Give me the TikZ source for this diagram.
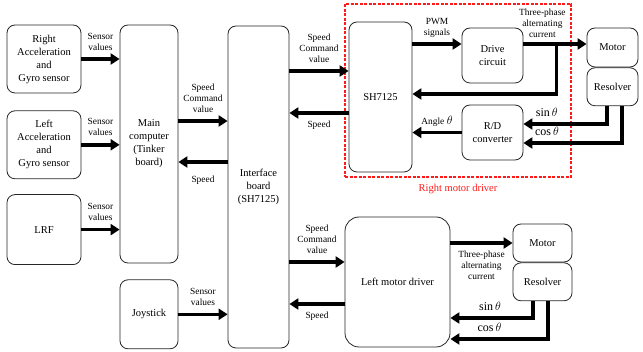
\documentclass[tikz,border=0pt]{standalone}
\usepackage{fontspec}
\setmainfont{Liberation Serif}
\usetikzlibrary{positioning,arrows.meta,calc}
\definecolor{drvred}{HTML}{FF1A1A}

\begin{document}
\begin{tikzpicture}[
    x=1pt, y=-1pt,
    box/.style={draw=black!85, line width=0.8pt, rounded corners=8pt, align=center, inner sep=1pt, font=\fontsize{10.5}{13}\selectfont},
    arr/.style={-{Triangle[length=9pt,width=11pt]}, line width=3.5pt},
    lbl/.style={align=center, inner sep=2pt, font=\fontsize{9.4}{11}\selectfont},
    trig/.style={inner sep=1pt, font=\fontsize{12}{13}\selectfont}
  ]
    \useasboundingbox (0,0) rectangle (643,352);

    % sensors and main computer
    \node[box, minimum width=74pt, minimum height=68pt] (rgyro) at (44,59) {Right\\Acceleration\\and\\Gyro sensor};
    \node[box, minimum width=74pt, minimum height=68pt, below=17pt of rgyro] (lgyro) {Left\\Acceleration\\and\\Gyro sensor};
    \node[box, minimum width=74pt, minimum height=70pt, below=15pt of lgyro] (lrf) {LRF};
    \node[box, minimum width=58pt, minimum height=238pt] (mainpc) at (149,144) {Main\\computer\\(Tinker\\board)};
    \node[box, minimum width=58pt, minimum height=69pt, below=16pt of mainpc] (joy) {Joystick};
    \node[box, minimum width=61pt, minimum height=322pt] (iface) at (258.5,187) {Interface\\board\\(SH7125)};

    % right motor driver
    \node[draw=drvred, line width=1.2pt, dash pattern=on 3pt off 1.5pt, minimum width=226pt, minimum height=173pt] (rbox) at (458,90.5) {};
    \node[text=drvred, inner sep=2pt, font=\fontsize{10.5}{13}\selectfont, below=4pt of rbox] (rboxlbl) {Right motor driver};
    \node[box, minimum width=63pt, minimum height=150pt] (sh) at (380.5,97) {SH7125};
    \node[box, minimum width=61pt, minimum height=55pt] (drive) at (492.5,55.5) {Drive\\circuit};
    \node[box, minimum width=61pt, minimum height=55pt] (rd) at (492.5,132.5) {R/D\\converter};
    \node[box, minimum width=51pt, minimum height=39pt] (rmotor) at (612.5,47.5) {Motor};
    \node[box, minimum width=51pt, minimum height=38pt, below=0pt of rmotor] (rres) {Resolver};

    % left motor driver
    \node[box, minimum width=105pt, minimum height=130pt, rounded corners=14pt] (ldrv) at (397.5,282) {Left motor driver};
    \node[box, minimum width=59pt, minimum height=38pt] (lmotor) at (542.5,243) {Motor};
    \node[box, minimum width=59pt, minimum height=38pt, below=0pt of lmotor] (lres) {Resolver};

    % sensor values
    \draw[arr] (rgyro.east) -- node[lbl, above=5pt] {Sensor\\values} (rgyro.east -| mainpc.west);
    \draw[arr] (lgyro.east) -- node[lbl, above=5pt] {Sensor\\values} (lgyro.east -| mainpc.west);
    \draw[arr] (lrf.east) -- node[lbl, above=5pt] {Sensor\\values} (lrf.east -| mainpc.west);
    \draw[arr] (joy.east) -- node[lbl, above=5pt] {Sensor\\values} (joy.east -| iface.west);

    % main computer <-> interface board
    \coordinate (mc1) at ([yshift=23pt]mainpc.east);
    \coordinate (mc2) at ([yshift=-18pt]mainpc.east);
    \draw[arr] (mc1) -- node[lbl, above=5pt] {Speed\\Command\\value} (mc1 -| iface.west);
    \draw[arr] (mc2 -| iface.west) -- node[lbl, below=10pt] {Speed} (mc2);

    % interface board <-> SH7125
    \coordinate (sh1) at ([yshift=26pt]sh.west);
    \coordinate (sh2) at ([yshift=-16pt]sh.west);
    \draw[arr] (sh1 -| iface.east) -- node[lbl, above=5pt] {Speed\\Command\\value} (sh1);
    \draw[arr] (sh2) -- node[lbl, below=4pt] {Speed} (sh2 -| iface.east);

    % interface board <-> left motor driver
    \coordinate (ld1) at ([yshift=20pt]ldrv.west);
    \coordinate (ld2) at ([yshift=-22pt]ldrv.west);
    \draw[arr] (ld1 -| iface.east) -- node[lbl, above=5pt] {Speed\\Command\\value} (ld1);
    \draw[arr] (ld2) -- node[lbl, below=4pt] {Speed} (ld2 -| iface.east);

    % inside the right motor driver
    \coordinate (dr1) at ([yshift=11.5pt]drive.west);
    \coordinate (dr2) at (dr1 -| drive.east);
    \coordinate (br) at ($(dr2)!0.52!(dr2 -| rmotor.west)$);
    \draw[arr] (dr1 -| sh.east) -- node[lbl, above=3pt] {PWM\\signals} (dr1);
    \draw[arr] (dr2) -- node[lbl, above=3pt, pos=0.3] {Three-phase\\alternating\\current} (dr2 -| rmotor.west);
    \draw[arr] (br) |- ([yshift=3pt]sh.east);
    \draw[arr] (rd.west) -- node[lbl, above=2pt] {Angle {\fontsize{12}{13}\selectfont$\theta$}} (rd.west -| sh.east);
    \draw[arr] ([xshift=-5.5pt]rres.south) |- node[trig, above=5pt, pos=0.86] {$\sin\theta$} ([yshift=8.5pt]rd.east);
    \draw[arr] ([xshift=9.5pt]rres.south) |- node[trig, above=5pt, pos=0.88] {$\cos\theta$} ([yshift=-10.5pt]rd.east);

    % left motor and resolver
    \draw[arr] (lmotor.west -| ldrv.east) -- node[lbl, below=4pt] {Three-phase\\alternating\\current} (lmotor.west);
    \draw[arr] ([xshift=-9.5pt]lres.south) |- node[trig, above=5pt, pos=0.76] {$\sin\theta$} ([yshift=-36pt]ldrv.east);
    \draw[arr] ([xshift=5.5pt]lres.south) |- node[trig, above=5pt, pos=0.8] {$\cos\theta$} ([yshift=-57pt]ldrv.east);
\end{tikzpicture}
\end{document}
